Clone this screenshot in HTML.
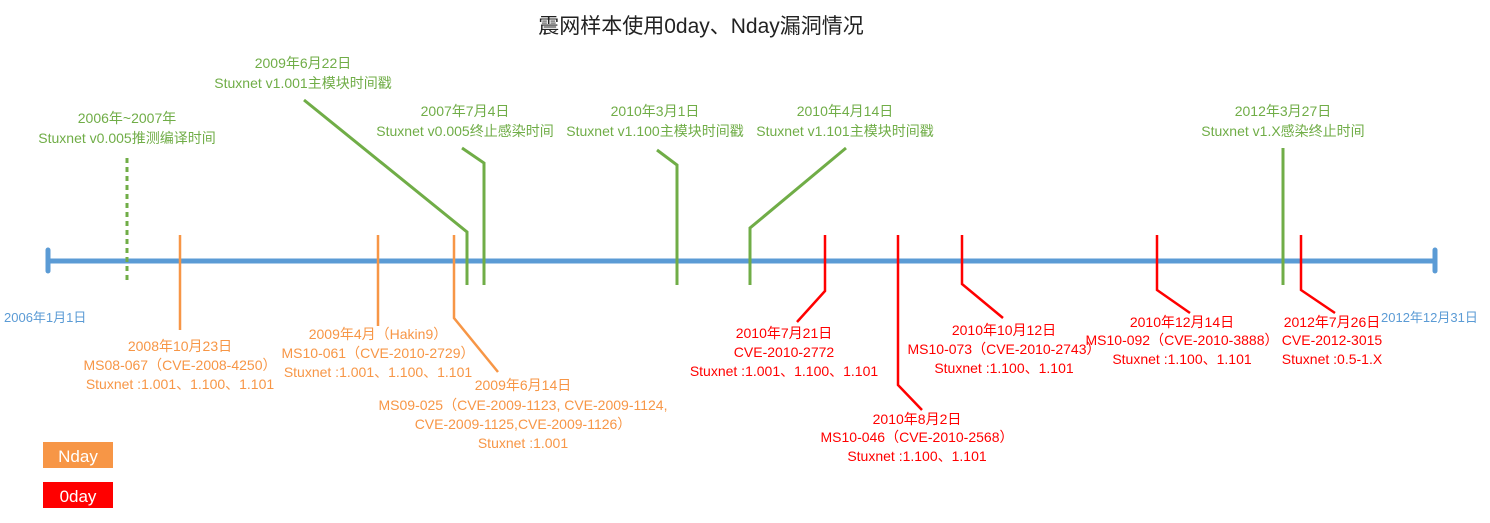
<!DOCTYPE html>
<html><head><meta charset="utf-8"><style>
body{margin:0;background:#fff}
svg text{font-family:"Liberation Sans","Noto Sans CJK SC",sans-serif}
.g{fill:#70ad47;font-size:14px}
.o{fill:#f79646;font-size:14px}
.r{fill:#ff0000;font-size:14px}
.b{fill:#5b9bd5;font-size:13px}
</style></head><body>
<svg width="1490" height="518" xmlns="http://www.w3.org/2000/svg">
<text x="701" y="33" text-anchor="middle" font-size="21" fill="#222">震网样本使用0day、Nday漏洞情况</text>
<g stroke="#5b9bd5" stroke-width="5" stroke-linecap="round">
<line x1="48" y1="261" x2="1435" y2="261"/>
<line x1="48" y1="250" x2="48" y2="271"/>
<line x1="1435" y1="250" x2="1435" y2="271"/>
</g>
<g stroke="#70ad47" stroke-width="3" fill="none">
<line x1="127" y1="158" x2="127" y2="283" stroke-dasharray="5,4"/>
<polyline points="304,100 467,232 467,285"/>
<polyline points="462,148 484,163 484,285"/>
<polyline points="657,150 677,165 677,285"/>
<polyline points="846,148 750,228 750,285"/>
<line x1="1283" y1="148" x2="1283" y2="285"/>
</g>
<g stroke="#f79646" stroke-width="2.5" fill="none">
<line x1="180" y1="235" x2="180" y2="330"/>
<line x1="378" y1="235" x2="378" y2="326"/>
<polyline points="454,235 454,318 498,372"/>
</g>
<g stroke="#ff0000" stroke-width="2.5" fill="none">
<polyline points="825,235 825,291 797,322"/>
<polyline points="898,235 898,385 922,410"/>
<polyline points="962,235 962,284 1003,318"/>
<polyline points="1157,235 1157,290 1190,313"/>
<polyline points="1301,235 1301,290 1335,313"/>
</g>
<g class="g" text-anchor="middle">
<text x="127" y="123">2006年~2007年</text><text x="127" y="143">Stuxnet v0.005推测编译时间</text>
<text x="303" y="68">2009年6月22日</text><text x="303" y="88">Stuxnet v1.001主模块时间戳</text>
<text x="465" y="116">2007年7月4日</text><text x="465" y="136">Stuxnet v0.005终止感染时间</text>
<text x="655" y="116">2010年3月1日</text><text x="655" y="136">Stuxnet v1.100主模块时间戳</text>
<text x="845" y="116">2010年4月14日</text><text x="845" y="136">Stuxnet v1.101主模块时间戳</text>
<text x="1283" y="116">2012年3月27日</text><text x="1283" y="136">Stuxnet v1.X感染终止时间</text>
</g>
<text class="b" x="4" y="322">2006年1月1日</text>
<text class="b" x="1381" y="322">2012年12月31日</text>
<g class="o" text-anchor="middle">
<text x="180" y="351">2008年10月23日</text><text x="180" y="370">MS08-067（CVE-2008-4250）</text><text x="180" y="389">Stuxnet :1.001、1.100、1.101</text>
<text x="378" y="339">2009年4月（Hakin9）</text><text x="378" y="358">MS10-061（CVE-2010-2729）</text><text x="378" y="377">Stuxnet :1.001、1.100、1.101</text>
<text x="523" y="390">2009年6月14日</text><text x="523" y="410">MS09-025（CVE-2009-1123, CVE-2009-1124,</text><text x="523" y="429">CVE-2009-1125,CVE-2009-1126）</text><text x="523" y="448">Stuxnet :1.001</text>
</g>
<g class="r" text-anchor="middle">
<text x="784" y="338">2010年7月21日</text><text x="784" y="357">CVE-2010-2772</text><text x="784" y="376">Stuxnet :1.001、1.100、1.101</text>
<text x="917" y="424">2010年8月2日</text><text x="917" y="442">MS10-046（CVE-2010-2568）</text><text x="917" y="461">Stuxnet :1.100、1.101</text>
<text x="1004" y="335">2010年10月12日</text><text x="1004" y="354">MS10-073（CVE-2010-2743）</text><text x="1004" y="373">Stuxnet :1.100、1.101</text>
<text x="1182" y="327">2010年12月14日</text><text x="1182" y="345">MS10-092（CVE-2010-3888）</text><text x="1182" y="364">Stuxnet :1.100、1.101</text>
<text x="1332" y="327">2012年7月26日</text><text x="1332" y="345">CVE-2012-3015</text><text x="1332" y="364">Stuxnet :0.5-1.X</text>
</g>
<rect x="43" y="442" width="70" height="26" fill="#f79646"/>
<text x="78" y="462" text-anchor="middle" fill="#fff" font-size="17">Nday</text>
<rect x="43" y="482" width="70" height="26" fill="#ff0000"/>
<text x="78" y="502" text-anchor="middle" fill="#fff" font-size="17">0day</text>
</svg>
</body></html>
